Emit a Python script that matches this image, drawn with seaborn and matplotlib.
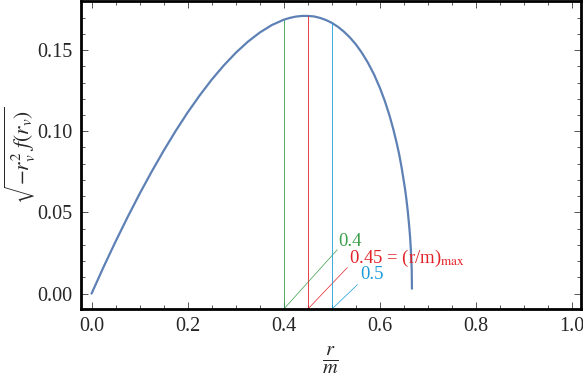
import matplotlib
matplotlib.use("Agg")
import matplotlib.pyplot as plt
import pandas as pd
import seaborn as sns
from matplotlib.ticker import MultipleLocator, FormatStrFormatter

# curve
r_over_m = [0.0, 0.025, 0.05, 0.075, 0.1, 0.125, 0.15, 0.175, 0.2, 0.225, 0.25,
            0.275, 0.3, 0.325, 0.35, 0.375, 0.4, 0.4125, 0.425, 0.4375, 0.45,
            0.4625, 0.475, 0.4875, 0.5, 0.5125, 0.525, 0.5375, 0.55, 0.5625,
            0.575, 0.5875, 0.6, 0.61, 0.62, 0.628, 0.635, 0.64, 0.645, 0.649,
            0.652, 0.655, 0.658, 0.66, 0.662, 0.6635, 0.665, 0.666, 0.6664]
sqrt_val = [0.0, 0.0164, 0.0321, 0.0471, 0.0615, 0.0751, 0.0880, 0.1002, 0.1116,
            0.1221, 0.1318, 0.1405, 0.1483, 0.1551, 0.1608, 0.1654, 0.1687,
            0.1698, 0.1706, 0.1710, 0.1710, 0.1707, 0.1698, 0.1685, 0.1667,
            0.1643, 0.1613, 0.1577, 0.1534, 0.1482, 0.1421, 0.1350, 0.1265,
            0.1186, 0.1094, 0.1008, 0.0923, 0.0855, 0.0775, 0.0701, 0.0645,
            0.0578, 0.0500, 0.0437, 0.0369, 0.0304, 0.0222, 0.0140, 0.0030]

# marked radii and their labels
mark_r = [0.4, 0.45, 0.5]
mark_h = [0.1687, 0.1710, 0.1667]
mark_colors = ["#3a9e4a", "#e2242a", "#1c9bd8"]
leader_end_x = [0.511, 0.532, 0.553]
leader_end_y = [0.027, 0.016, 0.0055]
label_x = [0.513, 0.535, 0.558]
label_y = [0.032, 0.0215, 0.012]
label_text = ["0.4", r"0.45 = (r/m)$_{\mathrm{max}}$", "0.5"]

sns.set_theme(style="ticks")
plt.rcParams["font.family"] = ["Liberation Serif", "DejaVu Serif"]
plt.rcParams["mathtext.fontset"] = "stix"

fig = plt.figure(figsize=(5.83, 3.75), dpi=100)
ax = fig.add_axes([80.5 / 583, 66 / 375, 500 / 583, 308 / 375])

df = pd.DataFrame({"r": r_over_m, "v": sqrt_val})
sns.lineplot(data=df, x="r", y="v", ax=ax, color="#5e81b5", lw=1.6, sort=False)

ymin, ymax = -0.0095, 0.1802
ax.set_xlim(-0.023, 1.017)
ax.set_ylim(ymin, ymax)

for r, h, c, ex, ey in zip(mark_r, mark_h, mark_colors, leader_end_x, leader_end_y):
    ax.plot([r, r], [ymin, h], color=c, lw=0.6)
    ax.plot([r, ex], [ymin, ey], color=c, lw=0.5)

for x, y, t, c in zip(label_x, label_y, label_text, mark_colors):
    ax.text(x, y, t, color=c, fontsize=13.5, ha="left", va="center")

ax.xaxis.set_major_locator(MultipleLocator(0.2))
ax.xaxis.set_minor_locator(MultipleLocator(0.05))
ax.yaxis.set_major_locator(MultipleLocator(0.05))
ax.yaxis.set_minor_locator(MultipleLocator(0.01))
ax.xaxis.set_major_formatter(FormatStrFormatter("%.1f"))
ax.yaxis.set_major_formatter(FormatStrFormatter("%.2f"))
ax.tick_params(which="both", direction="in", top=True, right=True, labelsize=14.5,
               color="#555555", width=0.7)
ax.tick_params(which="major", length=5, pad=6)
ax.tick_params(which="minor", length=3)
for s in ax.spines.values():
    s.set_linewidth(2.0)
    s.set_color("black")

ax.set_xlabel(r"$\frac{r}{m}$", fontsize=21, labelpad=6)
ax.set_ylabel(r"$\sqrt{-r_v^2\;f(r_v)}$", fontsize=15.5, labelpad=0)

fig.savefig("out.png", dpi=100)
